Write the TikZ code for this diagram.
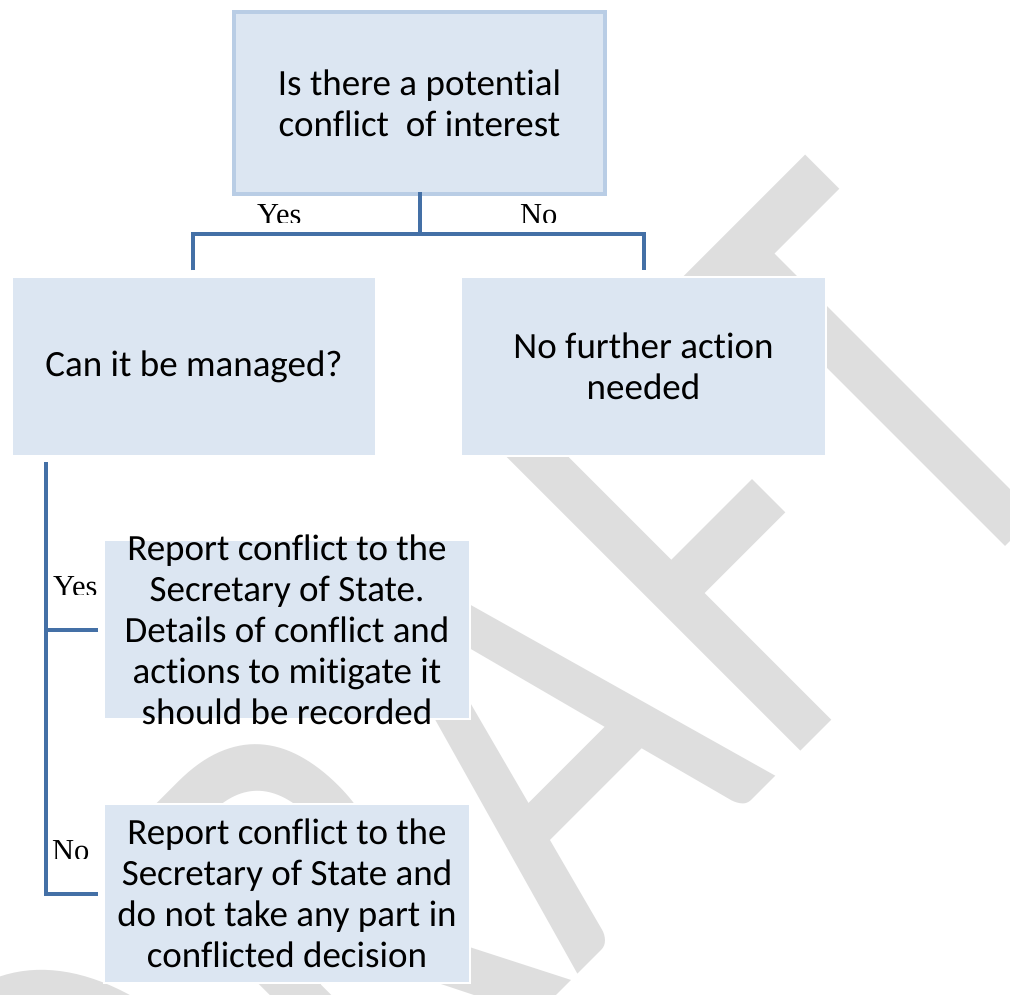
\documentclass[tikz,border=0pt]{standalone}
\usepackage{fontspec}
\usepackage{graphicx}
\setmainfont{Carlito}[RawFeature={-liga}]
\newfontfamily\labelfont{Liberation Serif}
\newfontfamily\wmfont{Carlito}
\definecolor{boxfill}{HTML}{DCE6F2}
\definecolor{boxedge}{HTML}{B9CDE5}
\definecolor{conncol}{HTML}{4470A6}
\definecolor{wmgray}{HTML}{DEDEDE}
\tikzset{
  conn/.style={draw=conncol, line width=4pt, line join=miter},
  boxbase/.style={fill=boxfill, inner sep=0pt, outer sep=0pt},
  topbox/.style={boxbase, draw=boxedge, line width=4pt},
  plainbox/.style={boxbase, draw=white, line width=2.5pt},
  boxtext/.style={inner sep=0pt, align=center, font=\fontsize{37}{41}\selectfont},
  lbl/.style={inner sep=0pt, anchor=base west, font=\labelfont\fontsize{30.5}{30}\selectfont},
  wm/.style={inner sep=0pt, text=wmgray, font=\wmfont\fontsize{490}{490}\selectfont}
}
\begin{document}
\begin{tikzpicture}[x=1pt,y=-1pt]
\useasboundingbox (0,0) rectangle (1010,994);
\fill[white] (0,0) rectangle (1010,994);
% watermark
\begin{scope}
\clip (0,0) rectangle (1010,994);
\node[wm, rotate=45, anchor=base] (wm) at (628,924) {\scalebox{1}[1.33]{D\kern35pt RAFT}};
\end{scope}
% labels (clipped at the bottom)
\begin{scope}
\clip (240,190) rectangle (600,222);
\node[lbl] (lyes) at (257,224) {Yes};
\node[lbl] (lno) at (520,224) {No};
\end{scope}
\begin{scope}
\clip (40,560) rectangle (110,594);
\node[lbl] (lyes2) at (53,596) {Yes};
\end{scope}
\begin{scope}
\clip (40,830) rectangle (110,858);
\node[lbl] (lno2) at (52,860) {No};
\end{scope}
% boxes
\node[topbox, minimum width=371pt, minimum height=182pt] (top) at (419.5,103) {};
\node[plainbox, minimum width=364pt, minimum height=179pt] (left) at (194,366.5) {};
\node[plainbox, minimum width=365pt, minimum height=179pt] (right) at (643.5,366.5) {};
\node[plainbox, minimum width=366pt, minimum height=179pt] (b1) at (287,629.5) {};
\node[plainbox, minimum width=366pt, minimum height=179pt] (b2) at (287,893.5) {};
% texts
\node[boxtext] (toptxt) at (top.center) {Is there a potential\\conflict~~of interest};
\node[boxtext] (lefttxt) at (left.center) {Can it be managed?};
\node[boxtext] (righttxt) at (right.center) {No further action\\needed};
\node[boxtext] (b1txt) at (b1.center) {Report conflict to the\\Secretary of State.\\Details of conflict and\\actions to mitigate it\\should be recorded};
\node[boxtext] (b2txt) at (b2.center) {Report conflict to the\\Secretary of State and\\do not take any part in\\conflicted decision};
% connectors
\coordinate (hub) at (419.5,234);
\coordinate (jL) at (193,270);
\coordinate (jR) at (643.5,270);
\draw[conn] ([yshift=2pt]top.south) -- (hub);
\draw[conn] (jL) |- (hub) -| (jR);
\coordinate (vtop) at (46,462);
\coordinate (yesEnd) at ([xshift=-6pt]b1.west);
\coordinate (noEnd) at ([xshift=-6pt]b2.west);
\draw[conn] (vtop) |- (noEnd);
\draw[conn] (yesEnd) -- (yesEnd -| vtop);
\end{tikzpicture}
\end{document}
